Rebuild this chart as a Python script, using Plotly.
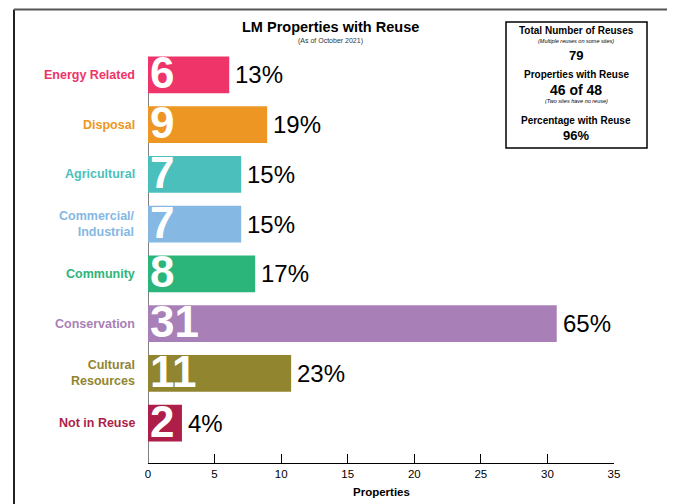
import plotly.graph_objects as go

# ---------------- data ----------------
categories = ["Energy Related", "Disposal", "Agricultural", "Commercial/<br>Industrial",
              "Community", "Conservation", "Cultural<br>Resources", "Not in Reuse"]
counts = [6, 9, 7, 7, 8, 31, 11, 2]
bar_lengths = [6.1, 8.95, 7.0, 7.0, 8.05, 30.7, 10.75, 2.55]
percents = ["13%", "19%", "15%", "15%", "17%", "65%", "23%", "4%"]
colors = ["#EE3468", "#EE9623", "#4BBFBC", "#85B8E3", "#2BB57A", "#A97FB7", "#928530", "#AD1F48"]
x_ticks = [0, 5, 10, 15, 20, 25, 30, 35]
x_title = "Properties"

title_text = "LM Properties with Reuse"
subtitle_text = "(As of October 2021)"
box_lines = [
    ("Total Number of Reuses", 10, True, False),
    ("(Multiple reuses on some sites)", 5.5, False, True),
    ("79", 13, True, False),
    ("Properties with Reuse", 10, True, False),
    ("46 of 48", 14, True, False),
    ("(Two sites have no reuse)", 5.5, False, True),
    ("Percentage with Reuse", 10, True, False),
    ("96%", 13, True, False),
]
box_line_y = [31, 41, 55, 75, 90, 101, 120, 136]

# ---------------- layout geometry ----------------
OFF = 8                      # page body margin of the browser
W, H = 675 - OFF, 504 - OFF
ML, MR, MT, MB = 148 - OFF, 61, 50 - OFF, 41
PW, PH = W - ML - MR, H - MT - MB
PLOT_L = ML + OFF
PLOT_B = H + OFF - MB

def px_x(x):
    return (x - PLOT_L) / PW

def px_y(y):
    return (PLOT_B - y) / PH

FONT = "Liberation Sans, Arial, Helvetica, sans-serif"

ypos = list(range(len(categories)))

fig = go.Figure()
fig.add_trace(go.Bar(
    x=bar_lengths, y=ypos, orientation="h",
    marker=dict(color=colors, line=dict(width=0)),
    width=0.74, hoverinfo="skip", showlegend=False,
))

annotations = []
for i, (cat, n, pct, c, L) in enumerate(zip(categories, counts, percents, colors, bar_lengths)):
    annotations.append(dict(
        x=0, xref="paper", y=i, yref="y", text=f"<b>{cat}</b>",
        xanchor="right", yanchor="middle", align="right", xshift=-11,
        showarrow=False, font=dict(family=FONT, size=12.5, color=c),
    ))
    annotations.append(dict(
        x=0, xref="x", y=i, yref="y", text=f"<b>{n}</b>",
        xanchor="left", yanchor="middle", xshift=0, yshift=2,
        showarrow=False, font=dict(family=FONT, size=44, color="white"),
    ))
    annotations.append(dict(
        x=L, xref="x", y=i, yref="y", text=pct,
        xanchor="left", yanchor="middle", xshift=4,
        showarrow=False, font=dict(family=FONT, size=24, color="black"),
    ))

annotations.append(dict(
    x=px_x(330), xref="paper", y=px_y(27), yref="paper", text=f"<b>{title_text}</b>",
    xanchor="center", yanchor="middle", showarrow=False,
    font=dict(family=FONT, size=14.5, color="black"),
))
annotations.append(dict(
    x=px_x(330), xref="paper", y=px_y(41), yref="paper", text=subtitle_text,
    xanchor="center", yanchor="middle", showarrow=False,
    font=dict(family=FONT, size=7, color="#333333"),
))
annotations.append(dict(
    x=0.5, xref="paper", y=px_y(492), yref="paper", text=f"<b>{x_title}</b>",
    xanchor="center", yanchor="middle", showarrow=False,
    font=dict(family=FONT, size=11.5, color="black"),
))
for (txt, sz, bold, ital), yy in zip(box_lines, box_line_y):
    t = txt
    if bold:
        t = f"<b>{t}</b>"
    if ital:
        t = f"<i>{t}</i>"
    annotations.append(dict(
        x=px_x(576), xref="paper", y=px_y(yy), yref="paper", text=t,
        xanchor="center", yanchor="middle", showarrow=False,
        font=dict(family=FONT, size=sz, color="black"),
    ))

FRAME_L, FRAME_R, FRAME_T, FRAME_B = 14, 669, 9.5, 510
shapes = [
    dict(type="line", xref="paper", yref="paper",
         x0=px_x(FRAME_L), x1=px_x(FRAME_L), y0=px_y(FRAME_B), y1=px_y(FRAME_T),
         line=dict(color="#222222", width=2)),
    dict(type="line", xref="paper", yref="paper",
         x0=px_x(FRAME_R), x1=px_x(FRAME_R), y0=px_y(FRAME_B), y1=px_y(FRAME_T),
         line=dict(color="#555555", width=2)),
    dict(type="line", xref="paper", yref="paper",
         x0=px_x(FRAME_L), x1=px_x(FRAME_R), y0=px_y(FRAME_T), y1=px_y(FRAME_T),
         line=dict(color="#555555", width=2)),
    dict(type="rect", xref="paper", yref="paper",
         x0=px_x(506), x1=px_x(647), y0=px_y(148), y1=px_y(22),
         line=dict(color="black", width=1.5), fillcolor="rgba(0,0,0,0)"),
    dict(type="line", xref="x", yref="paper", x0=0, x1=0,
         y0=0, y1=px_y(57), line=dict(color="black", width=1), layer="below"),
]

fig.update_layout(
    width=W, height=H,
    margin=dict(l=ML, r=MR, t=MT, b=MB, pad=0, autoexpand=False),
    paper_bgcolor="white", plot_bgcolor="white",
    font=dict(family=FONT, color="black"),
    xaxis=dict(
        range=[0, 35], tickvals=x_ticks, ticks="inside", ticklen=9, tickcolor="black",
        tickwidth=1, showline=True, linecolor="black", linewidth=1,
        showgrid=False, zeroline=False, tickfont=dict(family=FONT, size=11.5, color="black"),
        automargin=False, fixedrange=True,
    ),
    yaxis=dict(
        range=[7.8, -0.5], showticklabels=False, ticks="", showgrid=False,
        zeroline=False, showline=False, fixedrange=True, automargin=False,
    ),
    annotations=annotations,
    shapes=shapes,
    showlegend=False,
)

fig.write_html("out.html")
